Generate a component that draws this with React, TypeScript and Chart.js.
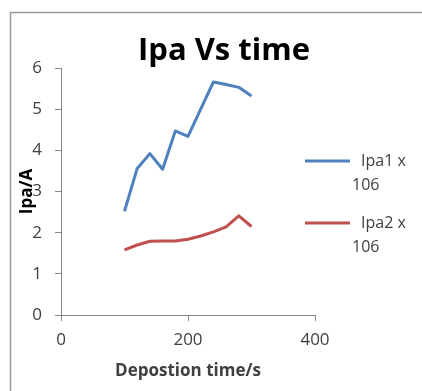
import { useEffect, useRef } from "react";
import { Chart, registerables } from "chart.js";

Chart.register(...registerables);

// ---- data ----
const depositionTimes = [100, 120, 140, 160, 180, 200, 220, 240, 260, 280, 300];
const ipa1Values = [2.52, 3.56, 3.92, 3.54, 4.47, 4.34, 5.0, 5.66, 5.6, 5.53, 5.32];
const ipa2Values = [1.58, 1.7, 1.79, 1.8, 1.8, 1.84, 1.92, 2.02, 2.14, 2.41, 2.15];
const seriesLabels = ["Ipa1 x 106", "Ipa2 x 106"];
const xTickValues = [0, 200, 400];
const yTickValues = [0, 1, 2, 3, 4, 5, 6];
const chartTitle = "Ipa Vs time";
const xAxisTitle = "Depostion time/s";
const yAxisTitle = "Ipa/A";

const FONT = "'Open Sans', Lato, sans-serif";
const BLUE = "#4F81BD";
const RED = "#C0504D";
const AXIS = "#868686";
const TEXT = "#404040";

const framePlugin = {
  id: "frame",
  beforeDraw(chart: any) {
    const { ctx, width, height } = chart;
    ctx.save();
    ctx.fillStyle = "#ffffff";
    ctx.fillRect(0, 0, width, height);
    ctx.strokeStyle = "#9a9a9a";
    ctx.lineWidth = 1.5;
    ctx.beginPath();
    ctx.moveTo(10.5, height);
    ctx.lineTo(10.5, 12.5);
    ctx.lineTo(width, 12.5);
    ctx.stroke();
    ctx.restore();
  },
};

const titlePlugin = {
  id: "shiftedTitle",
  afterDraw(chart: any) {
    const { ctx, chartArea } = chart;
    ctx.save();
    ctx.font = `bold 31px ${FONT}`;
    ctx.fillStyle = "#000000";
    ctx.textAlign = "center";
    ctx.textBaseline = "alphabetic";
    ctx.fillText(chartTitle, chartArea.right - 91, chartArea.top - 8);
    ctx.restore();
  },
};

const legendPlugin = {
  id: "wrapLegend",
  afterDraw(chart: any) {
    const { ctx, chartArea } = chart;
    ctx.save();
    ctx.font = `16px ${FONT}`;
    ctx.textBaseline = "middle";
    ctx.fillStyle = TEXT;
    chart.data.datasets.forEach((ds: any, i: number) => {
      const y = chartArea.top + 93 + i * 62;
      const x0 = chartArea.right - 10;
      ctx.strokeStyle = ds.borderColor;
      ctx.lineWidth = 3;
      ctx.lineCap = "butt";
      ctx.beginPath();
      ctx.moveTo(x0, y);
      ctx.lineTo(x0 + 45, y);
      ctx.stroke();
      const label: string = ds.label;
      const cut = label.lastIndexOf(" ");
      ctx.textAlign = "left";
      ctx.fillText(label.slice(0, cut), x0 + 56, y);
      ctx.fillText(label.slice(cut + 1), x0 + 47, y + 24);
    });
    ctx.restore();
  },
};

export default function App() {
  const ref = useRef<HTMLCanvasElement | null>(null);
  useEffect(() => {
    if (!ref.current) return;
    const chart = new Chart(ref.current, {
      type: "line",
      data: {
        datasets: [
          {
            label: seriesLabels[0],
            data: depositionTimes.map((x, i) => ({ x, y: ipa1Values[i] })),
            borderColor: BLUE,
            backgroundColor: BLUE,
            borderWidth: 3,
            pointRadius: 0,
            tension: 0,
            borderJoinStyle: "round",
          },
          {
            label: seriesLabels[1],
            data: depositionTimes.map((x, i) => ({ x, y: ipa2Values[i] })),
            borderColor: RED,
            backgroundColor: RED,
            borderWidth: 3,
            pointRadius: 0,
            tension: 0,
            borderJoinStyle: "round",
          },
        ],
      },
      options: {
        animation: false,
        responsive: false,
        layout: { padding: { left: 0, right: 107, top: 68, bottom: 0 } },
        plugins: {
          legend: { display: false },
          tooltip: { enabled: false },
          title: { display: false },
        },
        scales: {
          x: {
            type: "linear",
            min: 0,
            max: 400,
            afterBuildTicks: (s: any) => {
              s.ticks = xTickValues.map((v) => ({ value: v }));
            },
            afterFit: (s: any) => {
              s.height = 76;
            },
            grid: { display: true, drawOnChartArea: false, drawTicks: true, tickLength: 6, color: AXIS },
            border: { color: AXIS, width: 1 },
            ticks: { color: TEXT, font: { family: FONT, size: 17 }, padding: 9, maxRotation: 0 },
            title: {
              display: true,
              text: xAxisTitle,
              color: TEXT,
              font: { family: FONT, size: 17, weight: "bold" },
              padding: { top: 0, bottom: 10 },
            },
          },
          y: {
            type: "linear",
            min: 0,
            max: 6,
            afterBuildTicks: (s: any) => {
              s.ticks = yTickValues.map((v) => ({ value: v }));
            },
            afterFit: (s: any) => {
              s.width = 61;
            },
            grid: { display: true, drawOnChartArea: false, drawTicks: true, tickLength: 6, color: AXIS },
            border: { color: AXIS, width: 1 },
            ticks: { color: TEXT, font: { family: FONT, size: 17 }, padding: 13 },
            title: {
              display: true,
              text: yAxisTitle,
              color: "#000000",
              font: { family: FONT, size: 17, weight: "bold" },
              padding: { top: 17, bottom: 0 },
            },
          },
        },
      },
      plugins: [framePlugin, titlePlugin, legendPlugin],
    } as any);
    return () => chart.destroy();
  }, []);
  return (
    <div style={{ position: "fixed", left: 0, top: 0, width: 422, height: 391, background: "#fff" }}>
      <canvas ref={ref} width={422} height={391} style={{ display: "block", width: 422, height: 391 }} />
    </div>
  );
}
